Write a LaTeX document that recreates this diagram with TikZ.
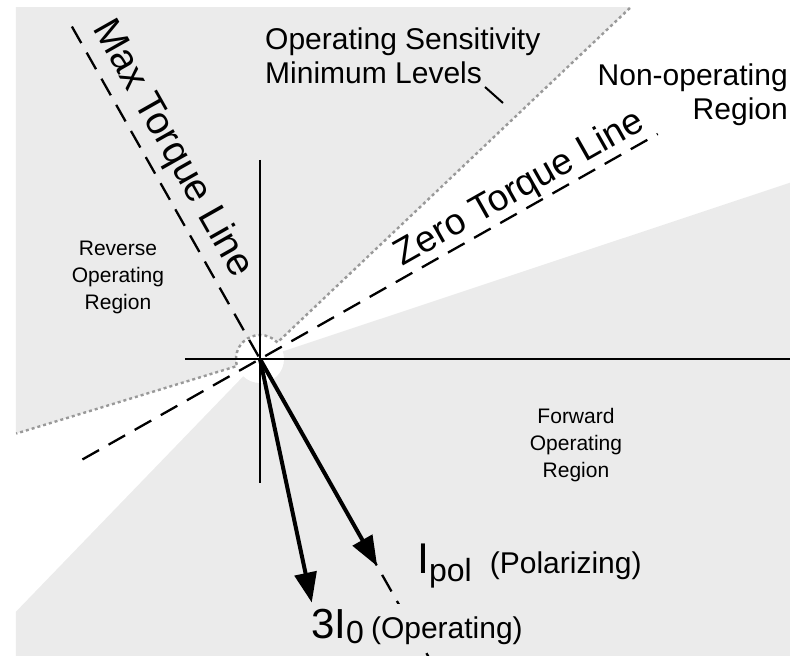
\documentclass[tikz,border=0pt]{standalone}
\usepackage{fontspec}
\setmainfont{Liberation Sans}
\usetikzlibrary{positioning}
\usetikzlibrary{arrows.meta}

\begin{document}
\begin{tikzpicture}[x=1pt,y=1pt,
	region/.style={fill=black!8},
	limit line/.style={gray!80,line width=2.4pt,dash pattern=on 3pt off 3pt},
	axis line/.style={line width=2pt},
	torque line/.style={line width=2.3pt,dash pattern=on 19pt off 11pt},
	phasor/.style={line width=4pt,-{Triangle[length=30pt,width=22pt]}},
	big label/.style={font=\fontsize{37}{44}\selectfont},
	mid label/.style={font=\fontsize{30}{34}\selectfont,inner sep=0pt},
	small label/.style={font=\fontsize{21}{27}\selectfont,align=center}]

		\useasboundingbox (-260,-297) rectangle (530,359);
		\coordinate (O) at (0,0);

		% operating regions
		\begin{scope}
			\clip (-244,-297) rectangle (530,351);
			\fill[region] (O) -- (43.5:1000) -- (120:1000) -- (197:1000) -- cycle;
			\fill[region] (O) -- (18.4:1000) -- (-60:1000) -- (226:1000) -- cycle;
		\end{scope}
		\fill[white] (O) circle (24);
		\draw[limit line] (43.5:510) -- (43.5:24) arc[start angle=43.5,end angle=197,radius=24] -- (197:255);

		% axes
		\draw[axis line] (-75,0) -- (530,0);
		\draw[axis line] (0,199) -- (0,-124);

		% torque lines
		\draw[torque line] (209.5:204) -- (29.5:457);
		\draw[torque line] (119.5:382) -- (-60.5:345);

		% labels
		\node[big label,font=\fontsize{39}{46}\selectfont,rotate=-60.5] (maxlbl) at (-88,210) {Max Torque Line};
		\node[big label,rotate=29.5] (zerolbl) at (260,170) {Zero Torque Line};
		\node[mid label,align=left,anchor=north west] (senslbl) at (5,331) {Operating Sensitivity\\Minimum Levels};
		\node[mid label,align=right,anchor=north east] (nonoplbl) at (528,295) {Non-operating\\Region};
		\node[small label] (revlbl) at (-142,82) {Reverse\\Operating\\Region};
		\node[small label] (fwdlbl) at (316,-86) {Forward\\Operating\\Region};

		\coordinate (leadstart) at (225,272);
		\coordinate (leadend) at (243,256);
		\draw[axis line] (leadstart) -- (leadend);

		% phasors
		\coordinate (Ipol) at (-60.5:238);
		\coordinate (Iop) at (-78:249);
		\draw[phasor] (O) -- (Ipol);
		\draw[phasor] (O) -- (Iop);

		\node[anchor=base west,inner sep=0pt] (ipollbl) at (157,-214)
			{\fontsize{43}{48}\selectfont I\raisebox{-8pt}{\fontsize{32}{34}\selectfont pol}\hspace{18pt}\fontsize{30}{34}\selectfont (Polarizing)};
		\node[anchor=base west,inner xsep=2pt,inner ysep=5pt,region] (ioplbl) at (49,-279)
			{\fontsize{42}{48}\selectfont 3I\raisebox{-5pt}{\fontsize{32}{34}\selectfont 0}\hspace{7pt}\fontsize{30}{34}\selectfont (Operating)};
	\end{tikzpicture}
\end{document}
